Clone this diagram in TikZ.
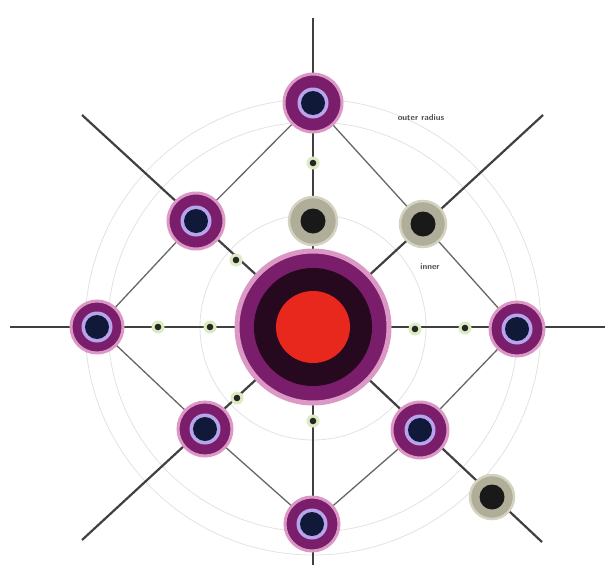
\documentclass[tikz,border=0pt]{standalone}
\usetikzlibrary{backgrounds}
\definecolor{purp}{HTML}{7A1E6C}
\definecolor{halo}{HTML}{DC98C4}
\definecolor{lav}{HTML}{B8A4EC}
\definecolor{navy}{HTML}{101A38}
\definecolor{beige}{HTML}{B0AE98}
\definecolor{beigehalo}{HTML}{D4D2C0}
\definecolor{core}{HTML}{E8281C}
\definecolor{darkring}{HTML}{26081F}
\definecolor{lgreen}{HTML}{DCEBC2}
\definecolor{faint}{HTML}{E2E2E2}
\begin{document}
\begin{tikzpicture}[x=1pt,y=-1pt,
  outernode/.style={circle, fill=purp, draw=halo, line width=3pt, minimum size=#1, inner sep=0pt,
    path picture={\fill[lav] (path picture bounding box.center) circle (15.5pt);
                  \fill[navy] (path picture bounding box.center) circle (12pt);}},
  outernode/.default=54pt,
  graynode/.style={circle, fill=beige, draw=beigehalo, line width=2.5pt, minimum size=#1, inner sep=0pt,
    path picture={\fill[black!90] (path picture bounding box.center) circle (12.5pt);}},
  graynode/.default=46pt,
  smallnode/.style={circle, fill=lgreen, minimum size=13pt, inner sep=0pt,
    path picture={\fill[black!85] (path picture bounding box.center) circle (3.3pt);}},
  corenode/.style={circle, fill=purp, draw=halo, line width=5pt, minimum size=152pt, inner sep=0pt,
    path picture={\fill[darkring] (path picture bounding box.center) circle (59pt);
                  \fill[core] (path picture bounding box.center) ellipse (37pt and 36pt);}},
  radial/.style={draw=black!75, line width=2.2pt},
  link/.style={draw=black!60, line width=1.3pt},
  faintcirc/.style={draw=faint, line width=0.8pt},
  lbl/.style={font=\sffamily\bfseries\fontsize{8.5}{10}\selectfont, text=black!70}
]
\useasboundingbox (0,0) rectangle (610,565);

% nodes
\node[corenode] (c) at (313,327) {};
\node[outernode=58pt] (nT) at (313,103) {};
\node[outernode=52pt] (nW) at (97,327) {};
\node[outernode=54pt] (nE) at (517,329) {};
\node[outernode=54pt] (nS) at (312,524) {};
\node[outernode=56pt] (nNW) at (196,221) {};
\node[outernode=54pt] (nSW) at (205,429) {};
\node[outernode=56pt] (nSE) at (420,430) {};
\node[graynode=48pt] (gT) at (313,221) {};
\node[graynode=46pt] (gNE) at (423,224) {};
\node[graynode=44pt] (gSE) at (492,497) {};

\node[smallnode] (s1) at (313,163) {};
\node[smallnode] (s2) at (236,260) {};
\node[smallnode] (s3) at (158,327) {};
\node[smallnode] (s4) at (210,327) {};
\node[smallnode] (s5) at (415,329) {};
\node[smallnode] (s6) at (465,328) {};
\node[smallnode] (s7) at (237,398) {};
\node[smallnode] (s8) at (313,421) {};

\node[lbl] (t1) at (421,118) {outer radius};
\node[lbl] (t2) at (430,267) {inner};

\coordinate (eN) at (313,18);
\coordinate (eS) at (313,565);
\coordinate (eW) at (10,327);
\coordinate (eE) at (605,327);
\coordinate (eNW) at (82,115);
\coordinate (eNE) at (543,115);
\coordinate (eSW) at (82,540);
\coordinate (eSE) at (542,542);

\begin{scope}[on background layer]
  \draw[faintcirc] (c.center) circle (113pt);
  \draw[faintcirc] (c.center) circle (205pt);
  \draw[faintcirc] (c.center) circle (228pt);

  \draw[radial] (eN) -- (c.center);
  \draw[radial] (eS) -- (c.center);
  \draw[radial, line width=1.8pt] (eW) -- (eE);
  \draw[radial] (eNW) -- (c.center);
  \draw[radial] (eNE) -- (c.center);
  \draw[radial] (eSW) -- (c.center);
  \draw[radial] (eSE) -- (c.center);

  \draw[link] (nT.center) -- (nNW.center) -- (nW.center) -- (nSW.center) -- (nS.center)
              -- (nSE.center) -- (nE.center) -- (gNE.center) -- (nT.center);
\end{scope}
\end{tikzpicture}
\end{document}
